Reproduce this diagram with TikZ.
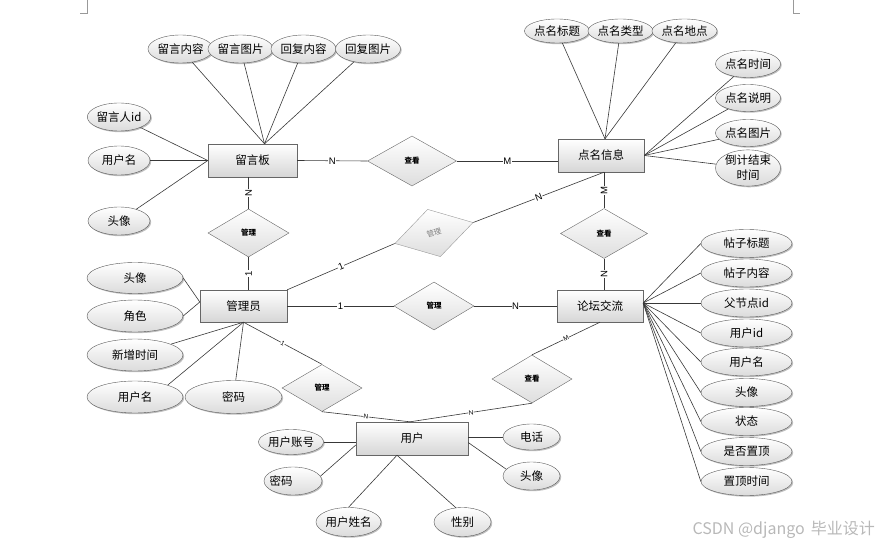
\documentclass[tikz,border=0pt]{standalone}
\usepackage{fontspec}
\setmainfont{Liberation Sans}
\newfontfamily\cjk{Noto Sans CJK SC}
\usetikzlibrary{shapes.geometric,shadows}
\begin{document}
\begin{tikzpicture}[x=1pt,y=-1pt,
  shd/.style={drop shadow={shadow xshift=1.2pt,shadow yshift=-1.2pt,opacity=0.25,fill=black}},
  attr/.style={ellipse, draw=black!65, top color=white, bottom color=black!14, shd, inner sep=0pt,
     font=\cjk\fontsize{11.5}{13}\selectfont},
  ent/.style={rectangle, draw=black!60, top color=white, bottom color=black!16, shd, inner sep=0pt,
     font=\cjk\fontsize{11.5}{13}\selectfont},
  rel/.style={diamond, draw=black!60, top color=white, bottom color=black!13, inner sep=0pt, aspect=1,
     minimum width=80pt, minimum height=48pt, font=\cjk\bfseries\fontsize{7.5}{9}\selectfont},
  conn/.style={draw=black!78, line width=0.6pt},
  lbl/.style={fill=white, inner sep=0.5pt, font=\fontsize{9.5}{10}\selectfont},
  slbl/.style={fill=white, inner sep=0.3pt, font=\fontsize{6.5}{7}\selectfont}
]
\useasboundingbox (0,0) rectangle (880,545);
% page corner marks
\draw[black!40, line width=0.5pt] (87,0) -- (87,13) -- (80,13);
\draw[black!40, line width=0.5pt] (793,0) -- (793,13) -- (800,13);

% entities
\node[ent, minimum width=89pt, minimum height=33pt] (lyb) at (252.5,160.5) {留言板};
\node[ent, minimum width=86pt, minimum height=33pt] (dm) at (601,155.5) {点名信息};
\node[ent, minimum width=87pt, minimum height=32pt] (gly) at (243.5,306) {管理员};
\node[ent, minimum width=86pt, minimum height=32pt] (lt) at (600,306) {论坛交流};
\node[ent, minimum width=112pt, minimum height=33pt] (yh) at (412,438.5) {用户};

% relationships
\node[rel, minimum width=89pt, minimum height=50pt] (r1) at (412,161) {查看};
\node[rel, minimum width=81pt] (r2) at (248.5,233) {管理};
\node[rel, minimum width=81pt, minimum height=49pt, rotate=15, draw=black!40, text=black!50,
      font=\cjk\fontsize{7.5}{9}\selectfont] (r3) at (434,233) {管理};
\node[rel, minimum width=87pt, minimum height=50pt] (r4) at (604,233.5) {查看};
\node[rel] (r5) at (434,306) {管理};
\node[rel, minimum height=47pt] (r6) at (322,388) {管理};
\node[rel] (r7) at (532,379) {查看};

% attributes of 留言板
\node[attr, minimum width=55pt, minimum height=28pt] (a1) at (180.5,49) {留言内容};
\node[attr, minimum width=55pt, minimum height=28pt] (a2) at (240.5,49) {留言图片};
\node[attr, minimum width=61pt, minimum height=28pt] (a3) at (303.5,49) {回复内容};
\node[attr, minimum width=60pt, minimum height=28pt] (a4) at (368,49) {回复图片};
\node[attr, minimum width=62pt, minimum height=28pt] (a5) at (119,117) {留言人id};
\node[attr, minimum width=62pt, minimum height=29pt] (a6) at (119,160.5) {用户名};
\node[attr, minimum width=62pt, minimum height=28pt] (a7) at (119,221) {头像};

% attributes of 点名信息
\node[attr, minimum width=62pt, minimum height=24pt] (b1) at (557,31) {点名标题};
\node[attr, minimum width=61pt, minimum height=24pt] (b2) at (620.5,31) {点名类型};
\node[attr, minimum width=61pt, minimum height=24pt] (b3) at (684.5,31) {点名地点};
\node[attr, minimum width=63pt, minimum height=27pt] (b4) at (748,64) {点名时间};
\node[attr, minimum width=63pt, minimum height=27pt] (b5) at (748,98) {点名说明};
\node[attr, minimum width=63pt, minimum height=27pt] (b6) at (748,133) {点名图片};
\node[attr, minimum width=63pt, minimum height=29pt, align=center,
      font=\cjk\fontsize{11.5}{15}\selectfont] (b7) at (748,168) {倒计结束\\时间};

% attributes of 管理员
\node[attr, minimum width=96pt, minimum height=31pt] (c1) at (135,278) {头像};
\node[attr, minimum width=96pt, minimum height=32pt] (c2) at (135,316) {角色};
\node[attr, minimum width=96pt, minimum height=32pt] (c3) at (135,355) {新增时间};
\node[attr, minimum width=96pt, minimum height=32pt] (c4) at (135,397) {用户名};
\node[attr, minimum width=97pt, minimum height=33pt] (c5) at (233.5,397) {密码};

% attributes of 用户
\node[attr, minimum width=56pt, minimum height=25pt] (d1) at (291,442) {用户账号};
\node[attr, minimum width=58pt, minimum height=28pt] (d2) at (293,481) {\hspace*{-24pt}密码};
\node[attr, minimum width=57pt, minimum height=29pt] (d3) at (348.5,522) {用户姓名};
\node[attr, minimum width=57pt, minimum height=29pt] (d4) at (462.5,522) {性别};
\node[attr, minimum width=57pt, minimum height=26pt] (d5) at (531.5,437) {电话};
\node[attr, minimum width=57pt, minimum height=28pt] (d6) at (531.5,476) {头像};

% attributes of 论坛交流
\foreach \n/\y/\t in {e1/243.5/帖子标题, e2/273/帖子内容, e3/303/父节点id, e4/333/用户id,
                     e5/362/用户名, e6/392.5/头像, e7/421.5/状态, e8/451.5/是否置顶, e9/481.5/置顶时间}
  \node[attr, minimum width=91pt, minimum height=28pt] (\n) at (746.5,\y) {\t};

% attribute connectors
\foreach \n in {a1,a2,a3,a4} \draw[conn] (\n) -- ([xshift=12pt]lyb.north);
\foreach \n in {a5,a7} \draw[conn] (\n) -- (lyb.west);
\draw[conn, line width=1pt] (a6.east) -- (lyb.west);
\foreach \n in {b1,b2,b3} \draw[conn] (\n) -- ([xshift=4pt]dm.north);
\foreach \n in {b4,b5,b6,b7} \draw[conn] (\n) -- (dm.east);
\draw[conn] (c1.east) -- ([yshift=4pt]gly.west);
\draw[conn] (c2.east) -- ([yshift=4pt]gly.west);
\draw[conn] (c3) -- (gly.south);
\draw[conn] (c4.20) -- (gly.south);
\draw[conn] (c5) -- (gly.south);
\draw[conn, line width=1pt] (d1.east) -- (d1.east -| yh.west);
\draw[conn] (d2.10) -- ([yshift=-6.5pt]yh.west);
\draw[conn] (d3.north) -- ([xshift=-15pt]yh.south);
\draw[conn] (d4.115) -- ([xshift=-15pt]yh.south);
\draw[conn, line width=1pt] (d5.west) -- (d5.west -| yh.east);
\draw[conn] (d6.165) -- ([yshift=-4pt]yh.east);
\foreach \n in {e1,e2,e3,e4,e5,e6,e7,e8,e9} \draw[conn] ([yshift=3pt]lt.east) -- (\n.west);

% relationship connectors
\draw[conn] (lyb.east) -- node[lbl]{N} (r1.west);
\draw[conn] (r1.east) -- node[lbl]{M} (r1.east -| dm.west);
\draw[conn] (r2.north |- lyb.south) -- node[lbl, rotate=90]{N} (r2.north);
\draw[conn] (r2.south) -- node[lbl, rotate=90]{1} (r2.south |- gly.north);
\draw[conn] (gly.north east) -- node[lbl, sloped]{1} (r3.west);
\draw[conn] (r3.east) -- node[lbl, sloped]{N} (r4.north |- dm.south);
\draw[conn] (r4.north |- dm.south) -- node[lbl, rotate=90]{M} (r4.north);
\draw[conn] (r4.south) -- node[lbl, rotate=90]{N} (r4.south |- lt.north);
\draw[conn] (gly.east) -- node[lbl]{1} (r5.west);
\draw[conn] (r5.east) -- node[lbl]{N} (lt.west);
\draw[conn] (gly.south) -- node[slbl, sloped]{1} (r6.north);
\draw[conn] (r6.south) -- node[slbl, sloped]{N} ([xshift=-2pt]yh.north);
\draw[conn] (lt.south) -- node[slbl, sloped]{M} (r7.north);
\draw[conn] (r7.south) -- node[slbl, sloped]{N} ([xshift=-2pt]yh.north);

% watermark
\node[anchor=east, text=black!28, inner sep=0pt, font=\cjk\fontsize{16}{18}\selectfont] (wm) at (875,530) {CSDN @django\hspace{6pt}毕业设计};
\end{tikzpicture}
\end{document}
